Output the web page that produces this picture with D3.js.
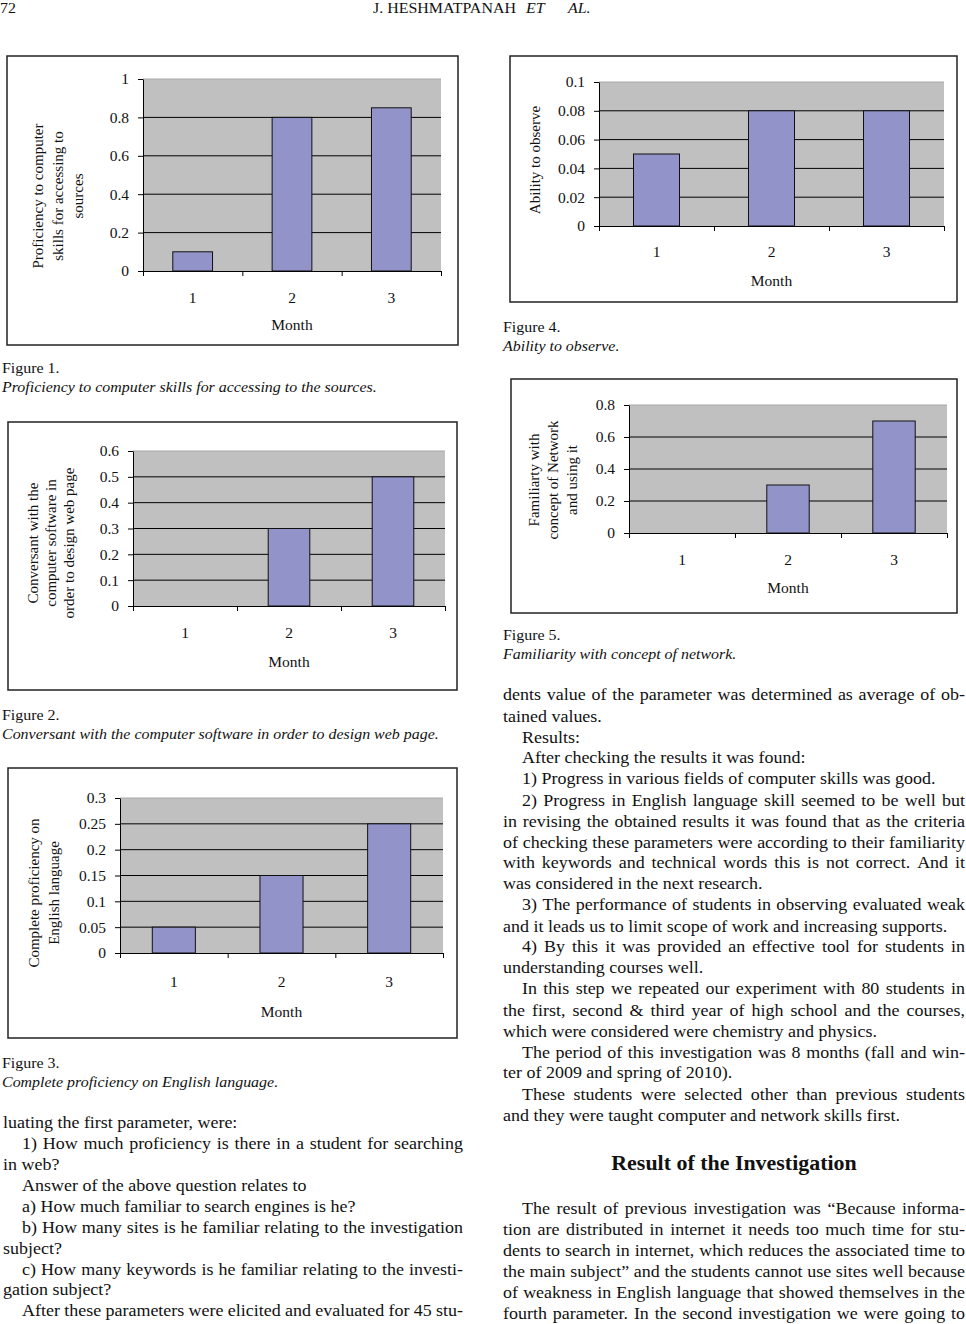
<!DOCTYPE html>
<html>
<head>
<meta charset="utf-8">
<script src="https://cdn.jsdelivr.net/npm/d3@7"></script>
<style>
  body { margin: 0; background: #fff; }
  svg { display: block; }
</style>
</head>
<body>
<div id="page"></div>
<script>
// data
var months = ['1', '2', '3'];
var proficiencyValues = [0.1, 0.8, 0.85];
var conversantValues = [0, 0.3, 0.5];
var englishValues = [0.05, 0.15, 0.25];
var observeValues = [0.05, 0.08, 0.08];
var networkValues = [0, 0.3, 0.7];

var ticks1 = [0, 0.2, 0.4, 0.6, 0.8, 1];
var ticks2 = [0, 0.1, 0.2, 0.3, 0.4, 0.5, 0.6];
var ticks3 = [0, 0.05, 0.1, 0.15, 0.2, 0.25, 0.3];
var ticks4 = [0, 0.02, 0.04, 0.06, 0.08, 0.1];
var ticks5 = [0, 0.2, 0.4, 0.6, 0.8];

var SERIF = '"Liberation Serif", "Times New Roman", serif';

var svg = d3.select('#page').append('svg').attr('width', 966).attr('height', 1324);
svg.append('rect').attr('width', 966).attr('height', 1324).attr('fill', '#fff');

// text squeezed/stretched horizontally like the scanned page
function stext(x, y, sx, size) {
    return svg.append('g').attr('transform', 'translate(' + x + ',' + y + ') scale(' + sx + ',1)')
        .append('text').attr('font-family', SERIF).attr('font-size', size).attr('fill', '#111');
}

// one excel-like bar chart
function barChart(o) {
    var g = svg.append('g');
    g.append('rect')
        .attr('x', o.frame[0]).attr('y', o.frame[1])
        .attr('width', o.frame[2] - o.frame[0]).attr('height', o.frame[3] - o.frame[1])
        .attr('fill', '#fff').attr('stroke', '#222').attr('stroke-width', 1.5);

    var x = d3.scaleBand().domain(months).range([o.plot[0], o.plot[2]])
        .paddingInner(0.6).paddingOuter(0.3);
    var xEdge = d3.scaleLinear().domain([0, months.length]).range([o.plot[0], o.plot[2]]);
    var ymax = d3.max(o.ticks);
    var y = d3.scaleLinear().domain([0, ymax]).range([o.plot[3], o.plot[1]]);

    g.append('rect')
        .attr('x', o.plot[0]).attr('y', o.plot[1])
        .attr('width', o.plot[2] - o.plot[0]).attr('height', o.plot[3] - o.plot[1])
        .attr('fill', '#c0c0c0');

    g.selectAll('.grid').data(o.ticks.slice(1)).enter().append('line')
        .attr('x1', o.plot[0]).attr('x2', o.plot[2])
        .attr('y1', function(d){ return y(d); }).attr('y2', function(d){ return y(d); })
        .attr('stroke', function(d){ return d === ymax ? '#a8a8a8' : '#000'; })
        .attr('stroke-width', 1);

    g.selectAll('.bar').data(o.values).enter().append('rect')
        .attr('x', function(d, i){ return x(months[i]); })
        .attr('y', function(d){ return y(d); })
        .attr('width', x.bandwidth())
        .attr('height', function(d){ return y(0) - y(d); })
        .attr('fill', '#9294c9')
        .attr('stroke', function(d){ return d > 0 ? '#111' : 'none'; })
        .attr('stroke-width', 1);

    var ya = g.append('g').attr('transform', 'translate(' + o.plot[0] + ',0)')
        .call(d3.axisLeft(y).tickValues(o.ticks).tickSize(5).tickSizeOuter(0).tickPadding(9)
            .tickFormat(function(d){ return String(d); }));
    var xt = g.append('g').attr('transform', 'translate(0,' + o.plot[3] + ')')
        .call(d3.axisBottom(xEdge).tickValues(d3.range(months.length + 1)).tickSize(5).tickSizeOuter(0)
            .tickFormat(function(){ return ''; }));
    var xl = g.append('g').attr('transform', 'translate(0,' + o.plot[3] + ')')
        .call(d3.axisBottom(x).tickSize(0).tickPadding(o.xpad || 21));
    xl.select('.domain').remove();

    [ya, xt, xl].forEach(function(a){
        a.attr('font-family', SERIF).attr('font-size', 15.5);
        a.selectAll('text').attr('fill', '#111');
        a.selectAll('line, .domain').attr('stroke', '#000');
    });

    g.append('text')
        .attr('x', (o.plot[0] + o.plot[2]) / 2).attr('y', o.plot[3] + o.monthDy)
        .attr('text-anchor', 'middle').attr('font-family', SERIF).attr('font-size', 15.5)
        .attr('fill', '#111').text('Month');

    o.ylab.forEach(function(line, i){
        g.append('text')
            .attr('transform', 'translate(' + o.ylabX[i] + ',' + o.ylabY + ') rotate(-90)')
            .attr('text-anchor', 'middle').attr('dominant-baseline', 'central')
            .attr('font-family', SERIF).attr('font-size', 15).attr('fill', '#111')
            .text(line);
    });

    stext(o.capX, o.capY, 1.1, 14.5).text(o.figure);
    stext(o.capX, o.capY + 19, 1.1, 14.5).attr('font-style', 'italic').text(o.caption);
}

barChart({
    frame: [7, 56, 458, 345], plot: [143, 79, 441, 271],
    values: proficiencyValues, ticks: ticks1, monthDy: 59,
    ylab: ['Proficiency to computer', 'skills for accessing to', 'sources'],
    ylabX: [38, 58, 78], ylabY: 196,
    capX: 2, capY: 373, figure: 'Figure 1.',
    caption: 'Proficiency to computer skills for accessing to the sources.'
});
barChart({
    frame: [8, 422, 457, 690], plot: [133, 451, 445, 606],
    values: conversantValues, ticks: ticks2, monthDy: 61,
    ylab: ['Conversant with the', 'computer software in', 'order to design web page'],
    ylabX: [33, 51, 69], ylabY: 543,
    capX: 2, capY: 720, figure: 'Figure 2.',
    caption: 'Conversant with the computer software in order to design web page.'
});
barChart({
    frame: [8, 768, 457, 1038], plot: [120, 798, 443, 953],
    values: englishValues, ticks: ticks3, monthDy: 64, xpad: 23,
    ylab: ['Complete proficiency on', 'English language'],
    ylabX: [34, 54], ylabY: 893,
    capX: 2, capY: 1068, figure: 'Figure 3.',
    caption: 'Complete proficiency on English language.'
});
barChart({
    frame: [510, 56, 957, 302], plot: [599, 82, 944, 226],
    values: observeValues, ticks: ticks4, monthDy: 60, xpad: 20,
    ylab: ['Ability to observe'],
    ylabX: [535], ylabY: 160,
    capX: 503, capY: 332, figure: 'Figure 4.',
    caption: 'Ability to observe.'
});
barChart({
    frame: [511, 379, 957, 613], plot: [629, 405, 947, 533],
    values: networkValues, ticks: ticks5, monthDy: 60,
    ylab: ['Familiarty with', 'concept of Network', 'and using it'],
    ylabX: [534, 553, 572], ylabY: 480,
    capX: 503, capY: 640, figure: 'Figure 5.',
    caption: 'Familiarity with concept of network.'
});

// running head
stext(0, 13, 1.1, 14.5).text('72');
stext(373, 13, 1.1, 14.5).text('J. HESHMATPANAH');
stext(526, 13, 1.1, 14.5).attr('font-style', 'italic').text('ET');
stext(568, 13, 1.1, 14.5).attr('font-style', 'italic').text('AL.');

// body text: [text, indent, justify]
var leftLines = [
    ['luating the first parameter, were:', 0, 0],
    ['1) How much proficiency is there in a student for searching', 1, 1],
    ['in web?', 0, 0],
    ['Answer of the above question relates to', 1, 0],
    ['a) How much familiar to search engines is he?', 1, 0],
    ['b) How many sites is he familiar relating to the investigation', 1, 1],
    ['subject?', 0, 0],
    ['c) How many keywords is he familiar relating to the investi-', 1, 1],
    ['gation subject?', 0, 0],
    ['After these parameters were elicited and evaluated for 45 stu-', 1, 1]
];
var leftY = [1123, 1144, 1165, 1186, 1207, 1228, 1249, 1270, 1290, 1311];

var rightLines = [
    ['dents value of the parameter was determined as average of ob-', 0, 1],
    ['tained values.', 0, 0],
    ['Results:', 1, 0],
    ['After checking the results it was found:', 1, 0],
    ['1) Progress in various fields of computer skills was good.', 1, 0],
    ['2) Progress in English language skill seemed to be well but', 1, 1],
    ['in revising the obtained results it was found that as the criteria', 0, 1],
    ['of checking these parameters were according to their familiarity', 0, 1],
    ['with keywords and technical words this is not correct. And it', 0, 1],
    ['was considered in the next research.', 0, 0],
    ['3) The performance of students in observing evaluated weak', 1, 1],
    ['and it leads us to limit scope of work and increasing supports.', 0, 0],
    ['4) By this it was provided an effective tool for students in', 1, 1],
    ['understanding courses well.', 0, 0],
    ['In this step we repeated our experiment with 80 students in', 1, 1],
    ['the first, second & third year of high school and the courses,', 0, 1],
    ['which were considered were chemistry and physics.', 0, 0],
    ['The period of this investigation was 8 months (fall and win-', 1, 1],
    ['ter of 2009 and spring of 2010).', 0, 0],
    ['These students were selected other than previous students', 1, 1],
    ['and they were taught computer and network skills first.', 0, 0],
    ['The result of previous investigation was \u201cBecause informa-', 1, 1],
    ['tion are distributed in internet it needs too much time for stu-', 0, 1],
    ['dents to search in internet, which reduces the associated time to', 0, 1],
    ['the main subject\u201d and the students cannot use sites well because', 0, 1],
    ['of weakness in English language that showed themselves in the', 0, 1],
    ['fourth parameter. In the second investigation we were going to', 0, 1]
];
var rightY = [695, 717, 738, 758, 779, 801, 822, 843, 863, 884, 905, 927, 947, 968, 989,
    1011, 1032, 1053, 1073, 1095, 1116, 1209, 1230, 1251, 1272, 1293, 1314];

var BODY = 16.5, SX = 1.09;
var measure = svg.append('text').attr('font-family', SERIF).attr('font-size', BODY).attr('x', -999);
function wordWidth(w) { measure.text(w); return measure.node().getComputedTextLength(); }

function column(lines, ys, x0, x1) {
    lines.forEach(function(l, i){
        var start = x0 + (l[1] ? 19 : 0);
        var t = stext(start, ys[i] + 5, SX, BODY);
        if (!l[2]) { t.text(l[0]); return; }
        var words = l[0].split(' ');
        var widths = words.map(wordWidth);
        var gap = ((x1 - start) / SX - d3.sum(widths)) / (words.length - 1);
        var cx = 0;
        words.forEach(function(w, j){
            t.append('tspan').attr('x', cx).text(w);
            cx += widths[j] + gap;
        });
    });
}
column(leftLines, leftY, 3, 463);
column(rightLines, rightY, 503, 965);
measure.remove();

stext(734, 1170, 1.07, 20.5).attr('text-anchor', 'middle').attr('font-weight', 'bold')
    .text('Result of the Investigation');
</script>
</body>
</html>
